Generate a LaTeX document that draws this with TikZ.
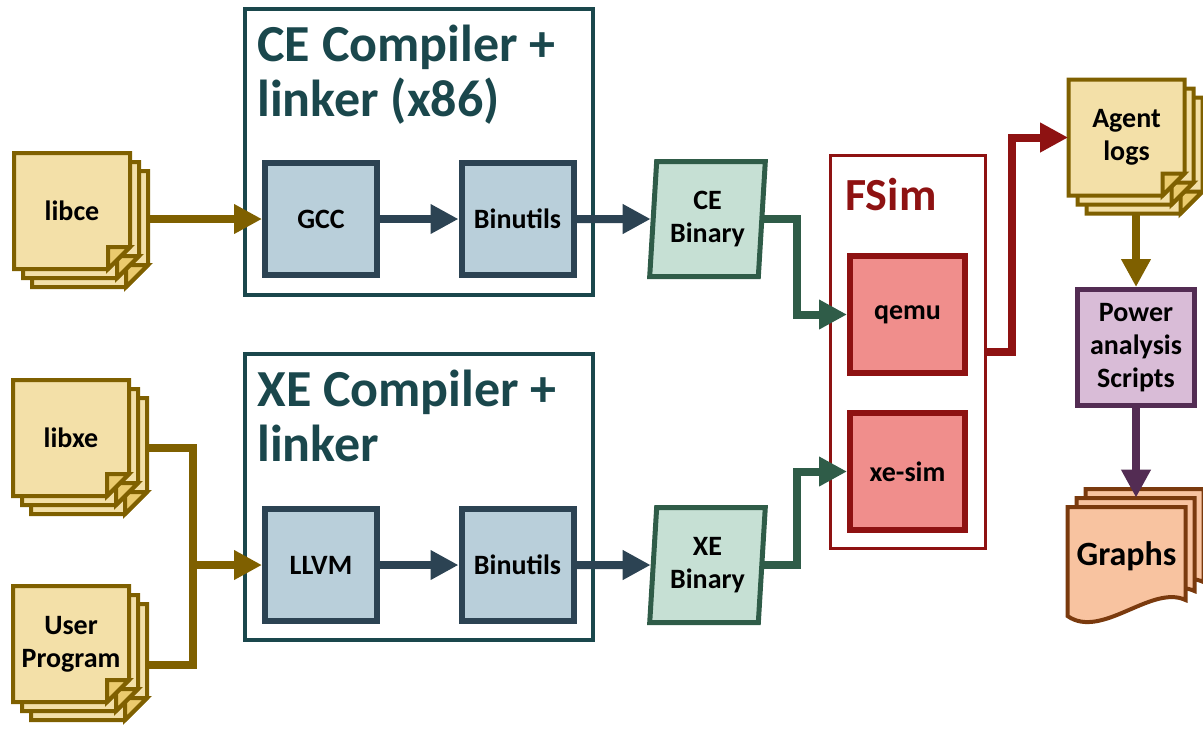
\documentclass[tikz,border=0pt]{standalone}
\usepackage{fontspec}
\setmainfont{Carlito}
\usetikzlibrary{arrows.meta,shapes.geometric}

\definecolor{docfill}{HTML}{F3E0A8}
\definecolor{docfold}{HTML}{EBCB6E}
\definecolor{docline}{HTML}{7F6000}
\definecolor{tealframe}{HTML}{1A474C}
\definecolor{toolfill}{HTML}{B9CFDA}
\definecolor{toolline}{HTML}{2C4353}
\definecolor{binfill}{HTML}{C6E0D4}
\definecolor{binline}{HTML}{2F5C48}
\definecolor{simline}{HTML}{8E1212}
\definecolor{simfill}{HTML}{F08E8C}
\definecolor{scriptfill}{HTML}{D9BCD7}
\definecolor{scriptline}{HTML}{532C53}
\definecolor{graphfill}{HTML}{F8C3A0}
\definecolor{graphline}{HTML}{7A3A0E}

\newcommand{\titlefont}{\fontsize{26}{27.5}\selectfont\bfseries}
\newcommand{\bodyfont}{\fontsize{14}{16.5}\selectfont\bfseries}

\tikzset{
	docsheet/.style={fill=docfill, draw=docline, line width=2pt},
	docfoldcorner/.style={fill=docfold, draw=docline, line width=2pt},
	graphsheet/.style={fill=graphfill, draw=graphline, line width=2pt},
	doctext/.style={minimum width=58pt, minimum height=58pt, inner sep=0pt, align=center, font=\bodyfont},
	compframe/.style={draw=tealframe, line width=2pt, minimum width=174pt, minimum height=143pt},
	comptitle/.style={anchor=north west, inner sep=0pt, align=left, text=tealframe, font=\titlefont},
	toolbox/.style={fill=toolfill, draw=toolline, line width=3pt, minimum width=56pt, minimum height=56pt, font=\bodyfont},
	binbox/.style={trapezium, trapezium left angle=85, trapezium right angle=95, trapezium stretches=true,
		fill=binfill, draw=binline, line width=2.5pt, minimum width=58pt, minimum height=57.5pt, align=center, font=\bodyfont},
	simframe/.style={draw=simline, line width=1.5pt, minimum width=77.5pt, minimum height=196.5pt},
	simbox/.style={fill=simfill, draw=simline, line width=3pt, minimum width=57.5pt, minimum height=58.5pt, font=\bodyfont},
	scriptbox/.style={fill=scriptfill, draw=scriptline, line width=2.5pt, minimum width=58.5pt, minimum height=58pt, align=center, font=\bodyfont},
	conn/.style={line width=4pt, -{Triangle[length=14pt,width=14pt]}},
	oliveconn/.style={conn, draw=docline},
	oliveline/.style={line width=4pt, draw=docline},
	slateconn/.style={conn, draw=toolline},
	greenconn/.style={conn, draw=binline},
	redconn/.style={conn, draw=simline},
	purpleconn/.style={conn, draw=scriptline}
}

% one sheet of a document stack, centre given in pixels
\newcommand{\paperdoc}[2]{%
	\begin{scope}[shift={(#1,#2)}]
		\path[docsheet] (-58,-58) -- (58,-58) -- (58,36) -- (36,58) -- (-58,58) -- cycle;
		\path[docfoldcorner] (36,36) -- (58,36) -- (36,58) -- cycle;
	\end{scope}}
\newcommand{\graphpage}[2]{%
	\begin{scope}[shift={(#1,#2)}]
		\path[graphsheet] (-59,-49) -- (59,-49) -- (59,44) .. controls (25,28) and (-25,84) .. (-59,60) -- cycle;
	\end{scope}}

\begin{document}
\begin{tikzpicture}[x=0.5pt, y=-0.5pt]
	\useasboundingbox (0,0) rectangle (1203,730);

	% compiler frames
	\node[compframe] (cecomp) at (419,152) {};
	\node[comptitle] at (257,25) {CE Compiler +\\linker (x86)};
	\node[compframe] (xecomp) at (419,497) {};
	\node[comptitle] at (257,370) {XE Compiler +\\linker};

	\node[toolbox] (gcc) at (321,219) {GCC};
	\node[toolbox] (binu1) at (517.5,219) {Binutils};
	\node[toolbox] (llvm) at (321,565) {LLVM};
	\node[toolbox] (binu2) at (517.5,565) {Binutils};

	\node[binbox] (cebin) at (707.5,219) {CE\\Binary};
	\node[binbox] (xebin) at (707.5,565) {XE\\Binary};

	% simulator
	\node[simframe] (fsim) at (908,352) {};
	\node[anchor=base west, inner sep=0pt, text=simline, font=\fontsize{23}{25}\selectfont\bfseries] (fsimlabel) at (845,210) {FSim};
	\node[simbox] (qemu) at (907.5,314.5) {qemu};
	\node[simbox] (xesim) at (907.5,471.5) {xe-sim};

	% document stacks
	\foreach \d in {18,9,0} \paperdoc{72+\d}{211+\d};
	\node[doctext] (libce) at (72,211) {libce};
	\foreach \d in {18,9,0} \paperdoc{71+\d}{438+\d};
	\node[doctext] (libxe) at (71,438) {libxe};
	\foreach \d in {18,9,0} \paperdoc{71+\d}{644+\d};
	\node[doctext] (user) at (71,644) {User\\Program};
	\foreach \d in {18,9,0} \paperdoc{1126.5+\d}{137.5+\d};
	\node[doctext] (agent) at (1126.5,137.5) {Agent\\logs};

	\node[scriptbox] (power) at (1136,347.5) {Power\\analysis\\Scripts};

	\foreach \d in {18,9,0} \graphpage{1126.5+\d}{556-\d};
	\node[minimum width=59pt, minimum height=49pt, inner sep=0pt, font=\fontsize{17}{19}\selectfont\bfseries] (graphs) at (1126.5,556) {Graphs};

	% connectors
	\coordinate (join) at (193,565);
	\draw[oliveconn] (libce.east |- gcc.west) ++(18,0) -- (gcc.west);
	\draw[oliveline] ([shift={(18,10)}]libxe.east) -| (join) |- ([shift={(18,21)}]user.east);
	\draw[oliveconn] (join) -- (llvm.west);
	\draw[slateconn] (gcc) -- (binu1);
	\draw[slateconn] (binu1) -- (cebin);
	\draw[slateconn] (llvm) -- (binu2);
	\draw[slateconn] (binu2) -- (xebin);
	\draw[greenconn] (cebin.east) -- ++(33,0) |- (qemu.west);
	\draw[greenconn] (xebin.east) -- ++(33,0) |- (xesim.west);
	\draw[redconn] (fsim.east) -- ++(25,0) |- (agent.west);
	\draw[oliveconn] (power.north |- agent.south) ++(0,18) -- (power.north);
	\draw[purpleconn] (power.south) -- ([yshift=4.5pt]power.south |- graphs.north);
\end{tikzpicture}
\end{document}
